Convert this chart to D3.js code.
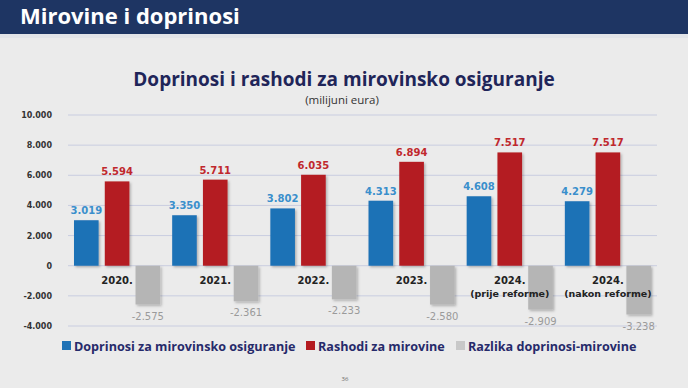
<!DOCTYPE html>
<html>
<head>
<meta charset="utf-8">
<title>Mirovine i doprinosi</title>
<script src="https://d3js.org/d3.v7.min.js"></script>
<style>
  body { margin: 0; background: #ebebeb; }
  svg { display: block; }
</style>
</head>
<body>
<svg width="688" height="388"></svg>
<script>
// podaci (milijuni eura)
const categories = ["2020.", "2021.", "2022.", "2023.", "2024.|(prije reforme)", "2024.|(nakon reforme)"];
const doprinosi = [3019, 3350, 3802, 4313, 4608, 4279];
const rashodi = [5594, 5711, 6035, 6894, 7517, 7517];
const razlika = [-2575, -2361, -2233, -2580, -2909, -3238];
const yTicks = [10000, 8000, 6000, 4000, 2000, 0, -2000, -4000];
const seriesNames = ["Doprinosi za mirovinsko osiguranje", "Rashodi za mirovine", "Razlika doprinosi-mirovine"];

const barColors = ["#1f72b6", "#b41b20", "#b5b5b5"];
const labelColors = ["#3a8fcc", "#c0282d", "#9a9a9a"];

const hr = d3.formatLocale({ decimal: ",", thousands: ".", grouping: [3], currency: ["", " €"], minus: "-" });
const fmt = hr.format(",d");

const svg = d3.select("svg");

// zaglavlje
svg.append("rect").attr("width", 688).attr("height", 34).attr("fill", "#1e3563");
svg.append("rect").attr("y", 34).attr("width", 688).attr("height", 4).attr("fill", "#e2e4e8");
svg.append("text").attr("x", 20).attr("y", 24)
  .attr("font-family", "Open Sans").attr("font-weight", 700).attr("font-size", 22)
  .attr("fill", "#fff").text("Mirovine i doprinosi");

// naslov grafa
svg.append("text").attr("x", 344).attr("y", 86).attr("text-anchor", "middle")
  .attr("font-family", "Open Sans").attr("font-weight", 700).attr("font-size", 19)
  .attr("fill", "#1f2559").text("Doprinosi i rashodi za mirovinsko osiguranje");
svg.append("text").attr("x", 342).attr("y", 104).attr("text-anchor", "middle")
  .attr("font-family", "Open Sans").attr("font-size", 11.5)
  .attr("fill", "#333").text("(milijuni eura)");

const x0 = d3.scaleBand().domain(categories).range([68, 657]).paddingInner(0).paddingOuter(0);
const series = [0, 1, 2];
const x1 = d3.scaleBand().domain(series).range([6, x0.bandwidth() - 6]).paddingInner(0.2);
const y = d3.scaleLinear().domain([-4000, 10000]).range([326, 115]);

// mreža
svg.append("g").selectAll("line").data(yTicks).join("line")
  .attr("x1", 68).attr("x2", 657)
  .attr("y1", d => y(d)).attr("y2", d => y(d))
  .attr("stroke", "#c9cde0").attr("stroke-width", 1);

// os y
const yAxis = d3.axisLeft(y).tickValues(yTicks).tickFormat(fmt).tickSize(0).tickPadding(8);
const ga = svg.append("g").attr("transform", "translate(60,0)").call(yAxis);
ga.select(".domain").remove();
ga.selectAll("text").attr("font-family", "DejaVu Sans").attr("font-weight", 700)
  .attr("font-size", 8).attr("fill", "#333");

// sjena
const defs = svg.append("defs");
const f = defs.append("filter").attr("id", "sh").attr("x", "-20%").attr("y", "-20%").attr("width", "150%").attr("height", "150%");
f.append("feDropShadow").attr("dx", 1.5).attr("dy", 1.5).attr("stdDeviation", 1).attr("flood-color", "#000").attr("flood-opacity", 0.25);

const values = [doprinosi, rashodi, razlika];
const rows = categories.map((c, i) => series.map(s => ({ c, s, v: values[s][i] })));

const groups = svg.append("g").selectAll("g").data(rows).join("g")
  .attr("transform", (d, i) => `translate(${x0(categories[i])},0)`);

groups.selectAll("rect").data(d => d).join("rect")
  .attr("x", d => x1(d.s)).attr("width", x1.bandwidth())
  .attr("y", d => y(Math.max(0, d.v))).attr("height", d => Math.abs(y(d.v) - y(0)))
  .attr("fill", d => barColors[d.s]).attr("filter", "url(#sh)");

groups.selectAll("text.val").data(d => d).join("text").attr("class", "val")
  .attr("x", d => x1(d.s) + x1.bandwidth() / 2)
  .attr("y", d => d.v >= 0 ? y(d.v) - 6 : y(d.v) + 15)
  .attr("text-anchor", "middle")
  .attr("font-family", "DejaVu Sans").attr("font-size", 10)
  .attr("font-weight", d => d.s === 2 ? 400 : 700)
  .attr("fill", d => labelColors[d.s])
  .text(d => fmt(d.v));

// kategorije
svg.append("g").selectAll("text").data(categories).join("text")
  .attr("x", d => x0(d) + x0.bandwidth() / 2).attr("y", 284)
  .attr("text-anchor", "middle")
  .attr("font-family", "DejaVu Sans").attr("font-weight", 700).attr("font-size", 10)
  .attr("fill", "#222")
  .each(function (d) {
    const parts = d.split("|");
    d3.select(this).selectAll("tspan").data(parts).join("tspan")
      .attr("x", x0(d) + x0.bandwidth() / 2)
      .attr("dy", (p, i) => i === 0 ? 0 : 12.5)
      .attr("font-size", (p, i) => i === 0 ? 10 : 9.5)
      .text(p => p);
  });

// legenda
const legX = [62, 306, 456];
const lg = svg.append("g").selectAll("g").data(seriesNames).join("g")
  .attr("transform", (d, i) => `translate(${legX[i]},346)`);
lg.append("rect").attr("y", -5).attr("width", 9).attr("height", 9).attr("fill", (d, i) => i === 2 ? "#c8c8c8" : barColors[i]);
lg.append("text").attr("x", 12).attr("y", 4.5)
  .attr("font-family", "Open Sans").attr("font-weight", 700).attr("font-size", 12.6)
  .attr("fill", "#262a6a").text(d => d);

svg.append("text").attr("x", 345).attr("y", 381).attr("text-anchor", "middle")
  .attr("font-family", "Open Sans").attr("font-size", 6).attr("fill", "#666").text("36");
</script>
</body>
</html>
